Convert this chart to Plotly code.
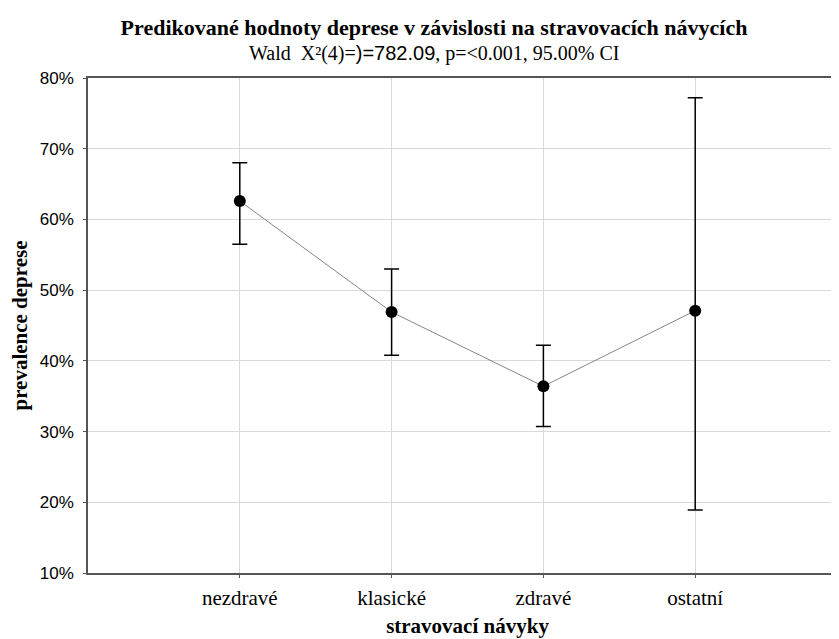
import plotly.graph_objects as go

categories = ["nezdravé", "klasické", "zdravé", "ostatní"]
predicted = [62.6, 46.9, 36.4, 47.1]
ci_upper = [68.0, 53.0, 42.2, 77.2]
ci_lower = [56.5, 40.8, 30.7, 18.9]
y_ticks = [10, 20, 30, 40, 50, 60, 70, 80]
y_tick_labels = [f"{v}%" for v in y_ticks]

x_idx = list(range(len(categories)))
err_plus = [u - p for u, p in zip(ci_upper, predicted)]
err_minus = [p - l for p, l in zip(predicted, ci_lower)]

serif = "Liberation Serif, Times New Roman, serif"
sans = "Liberation Sans, Arial, sans-serif"

# page is offset by the default 8px body margin
W, H = 839, 639
L, T, B = 80, 70, 74

fig = go.Figure()
fig.add_trace(go.Scatter(
    x=x_idx, y=predicted, mode="lines+markers",
    line=dict(color="#858585", width=1),
    marker=dict(color="black", size=12),
    error_y=dict(type="data", symmetric=False, array=err_plus, arrayminus=err_minus,
                 color="black", thickness=1.5, width=7.5),
    showlegend=False,
))

fig.update_layout(
    width=W, height=H,
    paper_bgcolor="white", plot_bgcolor="white",
    margin=dict(l=L, r=0, t=T, b=B),
    title=dict(text="<b>Predikované hodnoty deprese v závislosti na stravovacích návycích</b>",
               font=dict(family=serif, size=22, color="black"),
               x=426 / W, xanchor="center", y=1 - 19 / H, yanchor="middle"),
    annotations=[dict(
        text=("Wald  X²(4)=<span style=\"font-family:Liberation Sans, Arial, sans-serif\">)=782.09</span>"
              ", p=&lt;0.001, 95.00% CI"),
        xref="paper", yref="paper", x=(426 - L) / (W - L), y=1 + (T - 46) / (H - T - B),
        xanchor="center", yanchor="middle", showarrow=False,
        font=dict(family=serif, size=20, color="black"))],
    xaxis=dict(
        tickmode="array", tickvals=x_idx, ticktext=categories,
        range=[-1, 4],
        showgrid=True, gridcolor="#d9d9d9", gridwidth=1,
        showline=True, linecolor="#555555", linewidth=1.5, mirror=True,
        ticks="outside", ticklen=3, tickcolor="#555555",
        ticklabelstandoff=2,
        tickfont=dict(family=serif, size=21, color="black"),
        title=dict(text="<b>stravovací návyky</b>", font=dict(family=serif, size=21, color="black"),
                   standoff=9),
        zeroline=False,
    ),
    yaxis=dict(
        range=[10, 80],
        tickmode="array", tickvals=y_ticks, ticktext=y_tick_labels,
        showgrid=True, gridcolor="#d9d9d9", gridwidth=1,
        showline=True, linecolor="#555555", linewidth=1.5,
        ticks="outside", ticklen=3, tickcolor="#555555",
        ticklabelstandoff=6,
        tickfont=dict(family=sans, size=17, color="black"),
        title=dict(text="<b>prevalence deprese</b>", font=dict(family=serif, size=21, color="black"),
                   standoff=6),
        zeroline=False,
    ),
)

fig.write_html("out.html")
